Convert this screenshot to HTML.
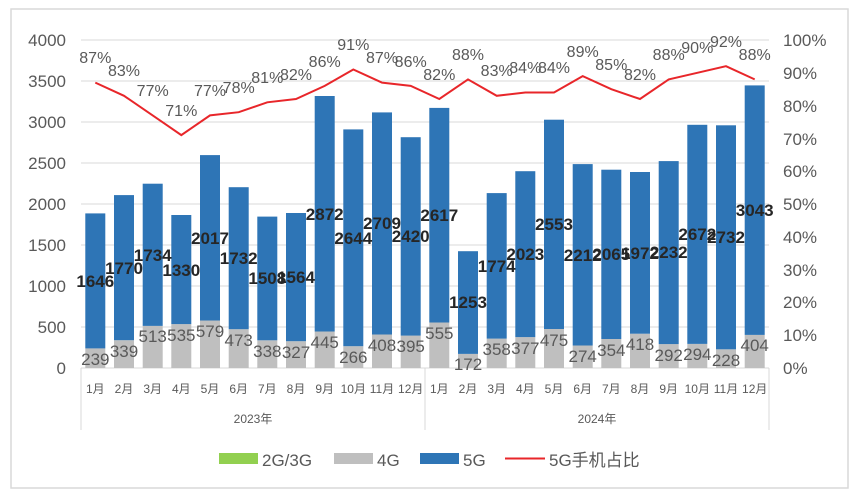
<!DOCTYPE html>
<html><head><meta charset="utf-8"><style>
html,body{margin:0;padding:0;background:#fff;}
svg{display:block;font-family:"Liberation Sans","Noto Sans CJK SC",sans-serif;}
</style></head><body>
<svg width="856" height="496" viewBox="0 0 856 496" xmlns="http://www.w3.org/2000/svg">
<rect x="11" y="9" width="837" height="479" fill="#fff" stroke="#d9d9d9" stroke-width="1.5"/>
<g stroke="#d9d9d9" stroke-width="1">
<line x1="81" y1="40" x2="769" y2="40"/><line x1="81" y1="81" x2="769" y2="81"/>
<line x1="81" y1="122" x2="769" y2="122"/><line x1="81" y1="163" x2="769" y2="163"/>
<line x1="81" y1="204" x2="769" y2="204"/><line x1="81" y1="245" x2="769" y2="245"/>
<line x1="81" y1="286" x2="769" y2="286"/><line x1="81" y1="327" x2="769" y2="327"/>
<line x1="81" y1="368" x2="769" y2="368"/>
<line x1="81" y1="368" x2="81" y2="430"/><line x1="425" y1="368" x2="425" y2="430"/><line x1="769" y1="368" x2="769" y2="430"/>
</g>
<g fill="#595959" font-size="17" text-anchor="end">
<text x="66" y="46">4000</text><text x="66" y="87">3500</text><text x="66" y="128">3000</text><text x="66" y="169">2500</text><text x="66" y="210">2000</text><text x="66" y="251">1500</text><text x="66" y="292">1000</text><text x="66" y="333">500</text><text x="66" y="374">0</text>
</g>
<g fill="#595959" font-size="17">
<text x="783" y="46">100%</text><text x="783" y="79">90%</text><text x="783" y="112">80%</text><text x="783" y="145">70%</text><text x="783" y="177">60%</text><text x="783" y="210">50%</text><text x="783" y="243">40%</text><text x="783" y="276">30%</text><text x="783" y="308">20%</text><text x="783" y="341">10%</text><text x="783" y="374">0%</text>
</g>
<g fill="#bfbfbf">
<rect x="85.3" y="348.4" width="20" height="19.6"/><rect x="114" y="340.2" width="20" height="27.8"/><rect x="142.7" y="325.9" width="20" height="42.1"/><rect x="171.3" y="324.1" width="20" height="43.9"/><rect x="200" y="320.5" width="20" height="47.5"/><rect x="228.7" y="329.2" width="20" height="38.8"/><rect x="257.3" y="340.3" width="20" height="27.7"/><rect x="286" y="341.2" width="20" height="26.8"/><rect x="314.7" y="331.5" width="20" height="36.5"/><rect x="343.3" y="346.2" width="20" height="21.8"/><rect x="372" y="334.5" width="20" height="33.5"/><rect x="400.7" y="335.6" width="20" height="32.4"/>
<rect x="429.3" y="322.5" width="20" height="45.5"/><rect x="458" y="353.9" width="20" height="14.1"/><rect x="486.7" y="338.6" width="20" height="29.4"/><rect x="515.3" y="337.1" width="20" height="30.9"/><rect x="544" y="329" width="20" height="39"/><rect x="572.7" y="345.5" width="20" height="22.5"/><rect x="601.3" y="339" width="20" height="29"/><rect x="630" y="333.7" width="20" height="34.3"/><rect x="658.7" y="344.1" width="20" height="23.9"/><rect x="687.3" y="343.9" width="20" height="24.1"/><rect x="716" y="349.3" width="20" height="18.7"/><rect x="744.7" y="334.9" width="20" height="33.1"/>
</g>
<g fill="#2e75b6">
<rect x="85.3" y="213.4" width="20" height="135"/><rect x="114" y="195.1" width="20" height="145.1"/><rect x="142.7" y="183.7" width="20" height="142.2"/><rect x="171.3" y="215" width="20" height="109.1"/><rect x="200" y="155.1" width="20" height="165.4"/><rect x="228.7" y="187.2" width="20" height="142"/><rect x="257.3" y="216.6" width="20" height="123.7"/><rect x="286" y="213" width="20" height="128.2"/><rect x="314.7" y="96" width="20" height="235.5"/><rect x="343.3" y="129.4" width="20" height="216.8"/><rect x="372" y="112.4" width="20" height="222.1"/><rect x="400.7" y="137.2" width="20" height="198.4"/>
<rect x="429.3" y="107.9" width="20" height="214.6"/><rect x="458" y="251.2" width="20" height="102.7"/><rect x="486.7" y="193.1" width="20" height="145.5"/><rect x="515.3" y="171.2" width="20" height="165.9"/><rect x="544" y="119.7" width="20" height="209.3"/><rect x="572.7" y="164.1" width="20" height="181.4"/><rect x="601.3" y="169.7" width="20" height="169.3"/><rect x="630" y="172" width="20" height="161.7"/><rect x="658.7" y="161.1" width="20" height="183"/><rect x="687.3" y="124.8" width="20" height="219.1"/><rect x="716" y="125.3" width="20" height="224"/><rect x="744.7" y="85.4" width="20" height="249.5"/>
</g>
<g fill="#595959" font-size="17" text-anchor="middle">
<text x="95.3" y="365">239</text><text x="124" y="357">339</text><text x="152.7" y="342">513</text><text x="181.3" y="341">535</text><text x="210" y="337">579</text><text x="238.7" y="346">473</text><text x="267.3" y="357">338</text><text x="296" y="358">327</text><text x="324.7" y="348">445</text><text x="353.3" y="363">266</text><text x="382" y="351">408</text><text x="410.7" y="352">395</text>
<text x="439.3" y="339">555</text><text x="468" y="370">172</text><text x="496.7" y="355">358</text><text x="525.3" y="354">377</text><text x="554" y="346">475</text><text x="582.7" y="362">274</text><text x="611.3" y="356">354</text><text x="640" y="350">418</text><text x="668.7" y="361">292</text><text x="697.3" y="360">294</text><text x="726" y="366">228</text><text x="754.7" y="351">404</text>
</g>
<g fill="#262626" font-size="17" font-weight="bold" text-anchor="middle">
<text x="95.3" y="287">1646</text><text x="124" y="274">1770</text><text x="152.7" y="261">1734</text><text x="181.3" y="276">1330</text><text x="210" y="244">2017</text><text x="238.7" y="264">1732</text><text x="267.3" y="284">1508</text><text x="296" y="283">1564</text><text x="324.7" y="220">2872</text><text x="353.3" y="244">2644</text><text x="382" y="229">2709</text><text x="410.7" y="242">2420</text>
<text x="439.3" y="221">2617</text><text x="468" y="308">1253</text><text x="496.7" y="272">1774</text><text x="525.3" y="260">2023</text><text x="554" y="230">2553</text><text x="582.7" y="261">2212</text><text x="611.3" y="260">2065</text><text x="640" y="259">1972</text><text x="668.7" y="258">2232</text><text x="697.3" y="240">2672</text><text x="726" y="243">2732</text><text x="754.7" y="216">3043</text>
</g>
<polyline fill="none" stroke="#e8262a" stroke-width="2" points="95.3,82.6 124,95.8 152.7,115.4 181.3,135.1 210,115.4 238.7,112.2 267.3,102.3 296,99 324.7,85.9 353.3,69.5 382,82.6 410.7,85.9 439.3,99 468,79.4 496.7,95.8 525.3,92.5 554,92.5 582.7,76.1 611.3,89.2 640,99 668.7,79.4 697.3,72.8 726,66.2 754.7,79.4"/>
<g fill="#595959" font-size="16" text-anchor="middle">
<text x="95.3" y="63">87%</text><text x="124" y="76">83%</text><text x="152.7" y="96">77%</text><text x="181.3" y="116">71%</text><text x="210" y="96">77%</text><text x="238.7" y="93">78%</text><text x="267.3" y="83">81%</text><text x="296" y="80">82%</text><text x="324.7" y="67">86%</text><text x="353.3" y="50">91%</text><text x="382" y="63">87%</text><text x="410.7" y="67">86%</text>
<text x="439.3" y="80">82%</text><text x="468" y="60">88%</text><text x="496.7" y="76">83%</text><text x="525.3" y="73">84%</text><text x="554" y="73">84%</text><text x="582.7" y="57">89%</text><text x="611.3" y="70">85%</text><text x="640" y="80">82%</text><text x="668.7" y="60">88%</text><text x="697.3" y="53">90%</text><text x="726" y="47">92%</text><text x="754.7" y="60">88%</text>
</g>
<g fill="#595959" font-size="12" text-anchor="middle">
<text x="95.3" y="393">1月</text><text x="124" y="393">2月</text><text x="152.7" y="393">3月</text><text x="181.3" y="393">4月</text><text x="210" y="393">5月</text><text x="238.7" y="393">6月</text><text x="267.3" y="393">7月</text><text x="296" y="393">8月</text><text x="324.7" y="393">9月</text><text x="353.3" y="393">10月</text><text x="382" y="393">11月</text><text x="410.7" y="393">12月</text>
<text x="439.3" y="393">1月</text><text x="468" y="393">2月</text><text x="496.7" y="393">3月</text><text x="525.3" y="393">4月</text><text x="554" y="393">5月</text><text x="582.7" y="393">6月</text><text x="611.3" y="393">7月</text><text x="640" y="393">8月</text><text x="668.7" y="393">9月</text><text x="697.3" y="393">10月</text><text x="726" y="393">11月</text><text x="754.7" y="393">12月</text>
<text x="253" y="423">2023年</text><text x="597" y="423">2024年</text>
</g>
<rect x="219" y="453" width="39" height="11" fill="#92d050"/>
<text x="262" y="466" font-size="17" fill="#595959">2G/3G</text>
<rect x="334" y="453" width="39" height="11" fill="#bfbfbf"/>
<text x="377" y="466" font-size="17" fill="#595959">4G</text>
<rect x="420" y="453" width="39" height="11" fill="#2e75b6"/>
<text x="463" y="466" font-size="17" fill="#595959">5G</text>
<line x1="505" y1="458.5" x2="545" y2="458.5" stroke="#e8262a" stroke-width="2"/>
<text x="549" y="466" font-size="17" fill="#595959">5G手机占比</text>
</svg>
</body></html>
